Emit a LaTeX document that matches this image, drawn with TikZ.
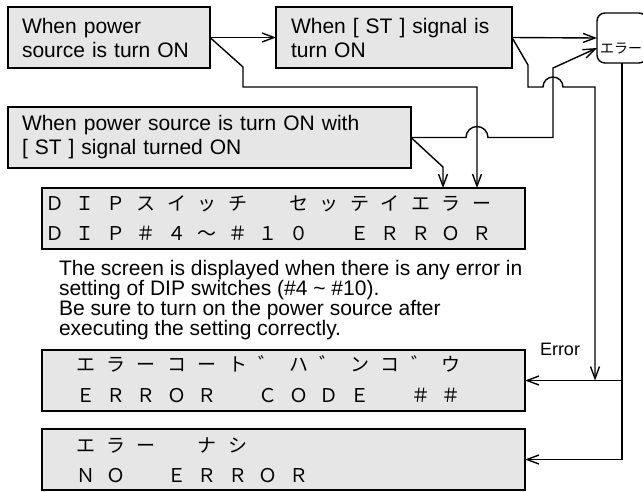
\documentclass[tikz,border=0pt]{standalone}
\usepackage{fontspec}
\setmainfont{Liberation Sans}
\newfontfamily\jp{Noto Sans CJK JP}
\usetikzlibrary{arrows.meta}
\definecolor{boxfill}{RGB}{230,230,230}
\newlength\lcdp \setlength\lcdp{30.5pt}
\def\lcdrow#1{\lcdloop#1\relax}
\def\lcdloop#1{\ifx\relax#1\else\ifx.#1\hbox to\lcdp{\hfil}\else\hbox to\lcdp{\hss#1\hss}\fi\expandafter\lcdloop\fi}
\begin{document}
\begin{tikzpicture}[x=1pt,y=-1pt,line width=1.4pt,
  every node/.style={inner sep=0pt,outer sep=0pt},
  cbox/.style={draw,fill=boxfill,rectangle,align=left,inner xsep=14pt,
    font=\fontsize{21}{24}\selectfont},
  lcdbox/.style={draw,fill=boxfill,rectangle,minimum width=483pt,minimum height=61pt},
  lcdtext/.style={anchor=base west,font=\jp\fontsize{19}{19}\selectfont},
  arr/.style={-{Straight Barb[length=12pt,width=9pt]}}]
\useasboundingbox (0,0) rectangle (643,491);
\clip (0,0) rectangle (643,491);
% condition boxes
\node[cbox,minimum height=61pt,text width=174pt] (b1) at (109,37.5)
  {When power\\source is turn ON};
\node[cbox,minimum height=61pt,text width=206pt,inner xsep=15pt] (b2) at (394,37.5)
  {When [ ST ] signal is\\turn ON};
\node[cbox,minimum height=61pt,text width=375pt] (b3) at (209.5,137.5)
  {When power source is turn ON with\\{[} ST ] signal turned ON};
% error box (cut at the right edge)
\node[draw,rectangle,rounded corners=8pt,minimum width=50pt,minimum height=50pt] (err) at (622,38) {};
\node[anchor=west,font=\jp\fontsize{14}{14}\selectfont] (errtxt) at (600,49) {エラー};
% LCD boxes
\node[lcdbox] (dip) at (283.5,218.5) {};
\node[lcdbox] (ecode) at (283.5,380.5) {};
\node[lcdbox] (noerr) at (283.5,459.5) {};
\node[lcdtext] (dipA) at (39.75,210) {\lcdrow{ＤＩＰスイッチ.セッテイエラー}};
\node[lcdtext] (dipB) at (39.75,240) {\lcdrow{ＤＩＰ＃４～＃１０.ＥＲＲＯＲ}};
\node[lcdtext] (ecA) at (39.75,371.5) {\lcdrow{.エラーコート゛ハ゛ンコ゛ウ}};
\node[lcdtext] (ecB) at (39.75,402) {\lcdrow{.ＥＲＲＯＲ.ＣＯＤＥ.＃＃}};
\node[lcdtext] (neA) at (39.75,452) {\lcdrow{.エラー.ナシ}};
\node[lcdtext] (neB) at (39.75,482) {\lcdrow{.ＮＯ.ＥＲＲＯＲ}};
% note
\node[anchor=north west,align=left,font=\fontsize{21}{20}\selectfont] (note) at (59,260)
  {The screen is displayed when there is any error in\\setting of DIP switches (\#4 \textasciitilde{} \#10).\\Be sure to turn on the power source after\\executing the setting correctly.};
\node[font=\fontsize{18}{18}\selectfont] (errlbl) at (560,349) {Error};
% helper coordinates
\coordinate (x477) at (477,87);
\coordinate (x443) at (443,167);
\coordinate (x595) at (595,87);
\coordinate (x553) at (553,68);
% connectors
\draw[arr] (b1.east) -- (b2.west);
\draw[arr] (b1.east) -- (243,67) -- (243,87) -- (x477) -- (x477 |- dip.north);
\draw[arr] (b2.east) -- (err.west);
\draw[arr] (b2.east) -- (528,65) -- (528,87) -- (543,87)
  arc[start angle=180,end angle=0,radius=10pt] -- (x595) -- (x595 |- ecode.east);
\draw[arr] (b3.east) -- (466,137.5) arc[start angle=180,end angle=0,radius=11pt]
  -- (553,137.5) -- (x553) -- ([yshift=-10pt]err.west);
\draw[arr] (b3.east) -- (x443) -- (x443 |- dip.north);
\draw[arr] (err.south) |- (noerr.east);
\draw[arr] (err.south |- ecode.east) -- (ecode.east);
\end{tikzpicture}
\end{document}
